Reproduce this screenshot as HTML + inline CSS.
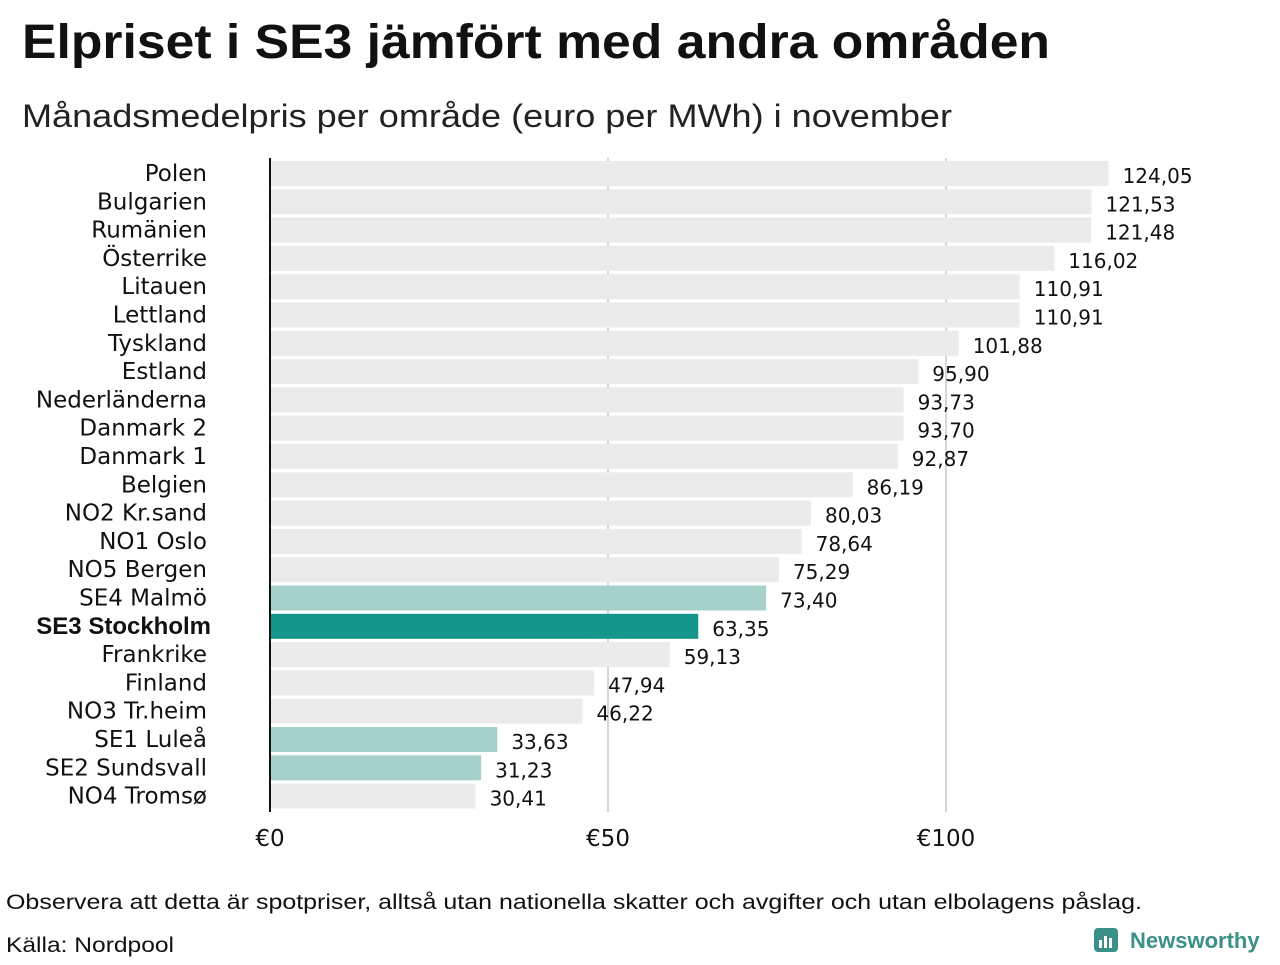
<!DOCTYPE html>
<html><head><meta charset="utf-8"><style>
body{margin:0;background:#fff;width:1280px;height:960px;overflow:hidden;font-family:"Liberation Sans",sans-serif}
</style></head><body>
<svg width="1280" height="960" font-family="Liberation Sans, sans-serif">
<text x="22" y="58" font-size="48" font-weight="bold" fill="#111" textLength="1028" lengthAdjust="spacingAndGlyphs">Elpriset i SE3 jämfört med andra områden</text>
<text x="22" y="127" font-size="32" fill="#222" textLength="930" lengthAdjust="spacingAndGlyphs">Månadsmedelpris per område (euro per MWh) i november</text>
<g id="plot"></g>
<text x="6" y="909" font-size="21" fill="#111" textLength="1136" lengthAdjust="spacingAndGlyphs">Observera att detta är spotpriser, alltså utan nationella skatter och avgifter och utan elbolagens påslag.</text>
<text x="6" y="952" font-size="21" fill="#111" textLength="168" lengthAdjust="spacingAndGlyphs">Källa: Nordpool</text>
<g>
<rect x="1094" y="928" width="24" height="24" rx="4" fill="#3a8f87"/>
<rect x="1099" y="940" width="3" height="8" fill="#fff"/><rect x="1104" y="936" width="3" height="12" fill="#fff"/><rect x="1109" y="938" width="3" height="10" fill="#fff"/>
<text x="1130" y="948" font-size="22" font-weight="bold" fill="#3a8f87">Newsworthy</text>
</g>
</svg>
<script>
const categories=["Polen","Bulgarien","Rumänien","Österrike","Litauen","Lettland","Tyskland","Estland","Nederländerna","Danmark 2","Danmark 1","Belgien","NO2 Kr.sand","NO1 Oslo","NO5 Bergen","SE4 Malmö","SE3 Stockholm","Frankrike","Finland","NO3 Tr.heim","SE1 Luleå","SE2 Sundsvall","NO4 Tromsø"];
const values=[124.05,121.53,121.48,116.02,110.91,110.91,101.88,95.90,93.73,93.70,92.87,86.19,80.03,78.64,75.29,73.40,63.35,59.13,47.94,46.22,33.63,31.23,30.41];
const highlight=["none","none","none","none","none","none","none","none","none","none","none","none","none","none","none","light","dark","none","none","none","light","light","none"];
const ticks=[0,50,100];
const tickLabels=["€0","€50","€100"];
const NS="http://www.w3.org/2000/svg";
const g=document.getElementById("plot");
const x=v=>270+v*6.76;
const y=i=>161+i*28.3;
const DV="DejaVu Sans, sans-serif";
function el(t,a){const e=document.createElementNS(NS,t);for(const k in a)e.setAttribute(k,a[k]);g.appendChild(e);return e;}
ticks.forEach((t,i)=>{
 if(t>0){const l=el("line",{x1:x(t),x2:x(t),y1:158,y2:812,stroke:"#c9c6d6","stroke-width":1.5});
 
 }
 const tx=el("text",{x:x(t),y:846,"font-size":23,"font-family":DV,"text-anchor":"middle",fill:"#111"});tx.textContent=tickLabels[i];
 
 
});
const col={none:"#ebebeb",light:"#a6d1cb",dark:"#14968a"};
categories.forEach((c,i)=>{
 const r=el("rect",{x:270,y:y(i),width:x(values[i])-270,height:25,fill:col[highlight[i]]});
 
 
 const l=el("text",{x:207,y:y(i)+20,"font-size":23,"font-family":DV,"text-anchor":"end",fill:"#111"});
 if(highlight[i]=="dark"){l.setAttribute("font-weight","bold");l.setAttribute("x",211);l.setAttribute("font-family","Liberation Sans, sans-serif");l.setAttribute("font-size",24);}
 l.textContent=c;
 
 
 const v=el("text",{x:x(values[i])+14,y:y(i)+22,"font-size":20,"font-family":DV,fill:"#111"});
 v.textContent=values[i].toFixed(2).replace(".",",");
 
 
});
const ax=el("line",{x1:270,x2:270,y1:158,y2:812,stroke:"#111","stroke-width":2});


</script>
</body></html>
